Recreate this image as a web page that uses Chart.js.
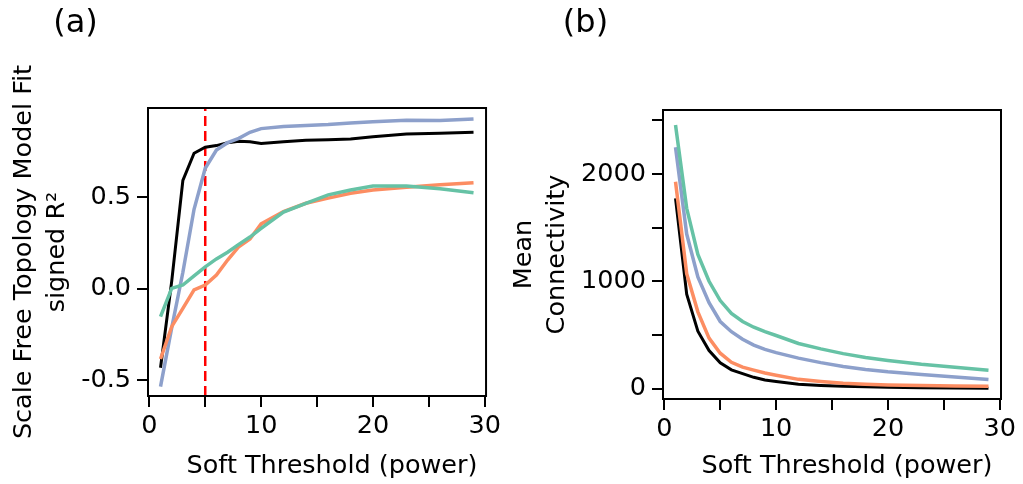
<!DOCTYPE html>
<html>
<head>
<meta charset="utf-8">
<script src="https://cdn.jsdelivr.net/npm/chart.js@4.4.1/dist/chart.umd.min.js"></script>
<style>
  html, body { margin: 0; padding: 0; background: #fff; }
  #wrap { position: relative; width: 1023px; height: 484px; }
  canvas { position: absolute; top: 0; }
  #ca { left: 0; }
  #cb { left: 505px; }
</style>
</head>
<body>
<div id="wrap">
  <canvas id="ca" width="505" height="484"></canvas>
  <canvas id="cb" width="518" height="484"></canvas>
</div>
<script>
const powers = [1, 2, 3, 4, 5, 6, 7, 8, 9, 10, 12, 14, 16, 18, 20, 23, 26, 29];

// (a) scale free topology fit, signed R^2
const fitGreen  = [-0.153, 0.002, 0.02, 0.07, 0.12, 0.163, 0.20, 0.243, 0.283, 0.33, 0.42, 0.468, 0.514, 0.541, 0.563, 0.563, 0.547, 0.526];
const fitOrange = [-0.385, -0.208, -0.108, -0.007, 0.02, 0.075, 0.157, 0.23, 0.272, 0.355, 0.422, 0.468, 0.496, 0.523, 0.541, 0.556, 0.569, 0.581];
const fitBlue   = [-0.537, -0.215, 0.09, 0.435, 0.66, 0.76, 0.80, 0.824, 0.857, 0.877, 0.888, 0.894, 0.899, 0.908, 0.914, 0.923, 0.921, 0.93];
const fitBlack  = [-0.433, 0.04, 0.593, 0.742, 0.775, 0.784, 0.80, 0.808, 0.805, 0.796, 0.805, 0.813, 0.816, 0.82, 0.832, 0.848, 0.852, 0.857];
const chosenPower = 5;

// (b) mean connectivity
const kGreen  = [2456, 1680, 1250, 1000, 820, 700, 625, 572, 530, 495, 420, 370, 326, 290, 262, 227, 199, 171];
const kBlue   = [2248, 1440, 1040, 800, 625, 530, 460, 405, 365, 335, 284, 242, 205, 178, 156, 131, 108, 84];
const kOrange = [1927, 1070, 715, 470, 330, 245, 200, 172, 145, 125, 86, 66, 50, 40, 34, 28, 24, 21];
const kBlack  = [1772, 880, 535, 355, 240, 175, 140, 105, 80, 67, 41, 29, 21, 16, 12, 8, 5, 3];

const xTicks = [0, 5, 10, 15, 20, 25, 30];
const fitTicks = [-0.5, 0, 0.5];
const kTicks = [0, 500, 1000, 1500, 2000, 2500];

const GREEN = "#66C2A5", ORANGE = "#FC8D62", BLUE = "#8DA0CB";
const FONT = "'DejaVu Sans', sans-serif";

const pts = (ys) => powers.map((p, i) => ({ x: p, y: ys[i] }));
const line = (ys, color, w) => ({
  data: pts(ys), borderColor: color, borderWidth: w,
  pointRadius: 0, tension: 0, fill: false,
});

// box around plot area plus x title and panel letter
const frame = {
  id: "frame",
  afterDatasetsDraw(chart, args, opts) {
    const { ctx, chartArea: a } = chart;
    ctx.save();
    ctx.strokeStyle = "#000";
    ctx.lineWidth = 2;
    ctx.strokeRect(a.left, a.top, a.right - a.left, a.bottom - a.top);
    ctx.fillStyle = "#000";
    ctx.textAlign = "center";
    ctx.textBaseline = "middle";
    ctx.font = "25.5px " + FONT;
    ctx.fillText("Soft Threshold (power)", (a.left + a.right) / 2 + 15, 466);
    ctx.font = "32px " + FONT;
    ctx.fillText(opts.panel, opts.panelX, 24);
    ctx.restore();
  },
};

function xScale(height) {
  return {
    type: "linear", min: -0.12, max: 30.12,
    afterBuildTicks: (s) => { s.ticks = xTicks.map((v) => ({ value: v })); },
    afterFit: (s) => { s.height = height; },
    grid: { drawOnChartArea: false, tickLength: 11, lineWidth: 2, color: "#000" },
    border: { display: false },
    ticks: {
      color: "#000", font: { family: FONT, size: 25.5 }, padding: 4, maxRotation: 0,
      autoSkip: false,
      callback: (v) => (v % 10 === 0 ? String(v) : ""),
    },
  };
}

function yScale(min, max, tickVals, width, fmt, title, titlePad) {
  return {
    type: "linear", min, max,
    afterBuildTicks: (s) => { s.ticks = tickVals.map((v) => ({ value: v })); },
    afterFit: (s) => { s.width = width; },
    grid: { drawOnChartArea: false, tickLength: 11, lineWidth: 2, color: "#000" },
    border: { display: false },
    ticks: { color: "#000", font: { family: FONT, size: 25.5 }, padding: 6, autoSkip: false, callback: fmt },
    title: {
      display: true, text: title, color: "#000",
      font: { family: FONT, size: 25.5, lineHeight: 1.3 },
      padding: { top: titlePad, bottom: 0 },
    },
  };
}

const common = {
  responsive: false, animation: false, devicePixelRatio: 1,
  plugins: { legend: { display: false }, tooltip: { enabled: false } },
};

new Chart(document.getElementById("ca"), {
  type: "line",
  data: {
    datasets: [
      line(fitGreen, GREEN, 3.5),
      line(fitOrange, ORANGE, 3.5),
      line(fitBlue, BLUE, 3.5),
      line(fitBlack, "#000", 3),
      {
        data: [{ x: chosenPower, y: -0.588 }, { x: chosenPower, y: 0.99 }],
        borderColor: "#FF0000", borderWidth: 2.5, borderDash: [10, 5],
        pointRadius: 0, fill: false,
      },
    ],
  },
  options: {
    ...common,
    layout: { padding: { top: 108, right: 18, left: 0, bottom: 0 } },
    scales: {
      x: xScale(88),
      y: yScale(-0.588, 0.99, fitTicks, 148, (v) => v.toFixed(1),
        ["Scale Free Topology Model Fit", "signed R\u00B2"], 8),
    },
    plugins: { ...common.plugins, frame: { panel: "(a)", panelX: 75.5 } },
  },
  plugins: [frame],
});

new Chart(document.getElementById("cb"), {
  type: "line",
  data: {
    datasets: [
      line(kGreen, GREEN, 3.5),
      line(kBlue, BLUE, 3.5),
      line(kOrange, ORANGE, 3.5),
      line(kBlack, "#000", 3),
    ],
  },
  options: {
    ...common,
    layout: { padding: { top: 110, right: 22, left: 0, bottom: 0 } },
    scales: {
      x: xScale(85),
      y: yScale(-97, 2596, kTicks, 158, (v) => (v % 1000 === 0 ? String(v) : ""),
        ["Mean", "Connectivity"], 3),
    },
    plugins: { ...common.plugins, frame: { panel: "(b)", panelX: 80.5 } },
  },
  plugins: [frame],
});
</script>
</body>
</html>
